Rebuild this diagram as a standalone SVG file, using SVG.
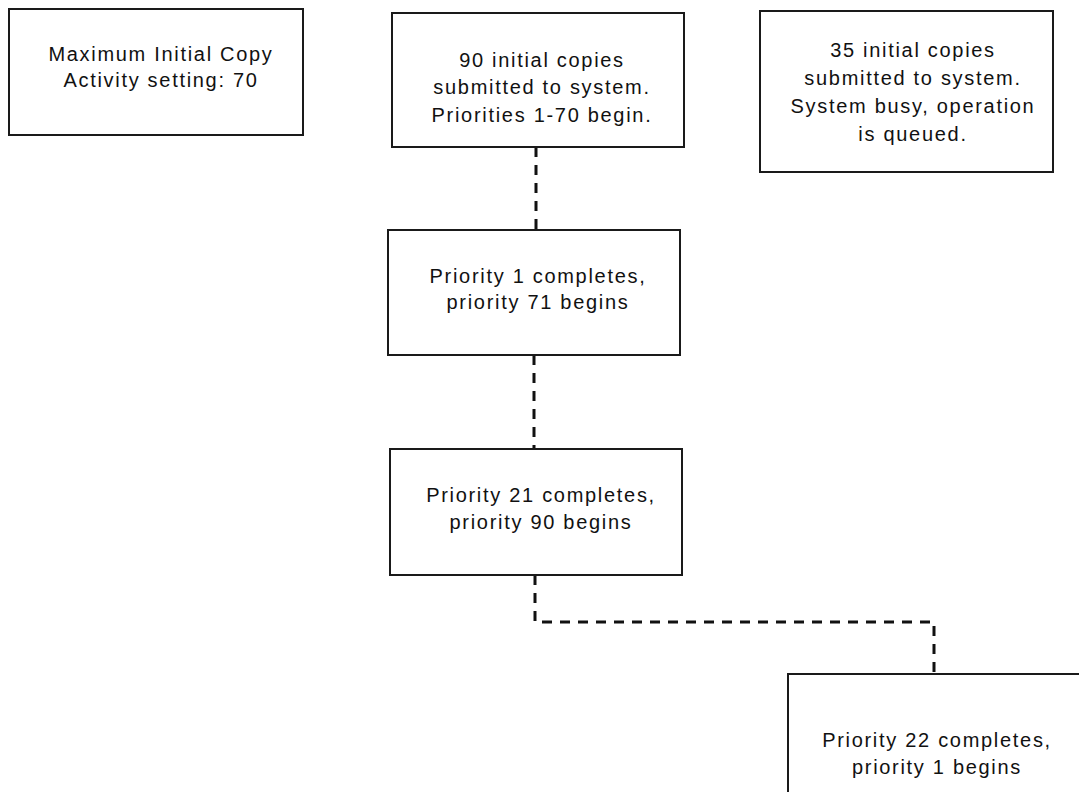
<svg xmlns="http://www.w3.org/2000/svg" width="1079" height="792" viewBox="0 0 1079 792">
<style>
.box{fill:#fff;stroke:#1a1a1a;stroke-width:2}
.t{font-family:"Liberation Sans",Arial,sans-serif;font-size:20px;letter-spacing:1.7px;fill:#111;text-anchor:middle}
.c{fill:none;stroke:#111;stroke-width:3;stroke-dasharray:10 8}
</style>
<rect width="1079" height="792" fill="#fff"/>
<g id="connectors">
<path class="c" d="M536,147 V230"/>
<path class="c" d="M534,355 V449"/>
<path class="c" d="M535,575 V622 H934 V674"/>
</g>
<g id="n-max">
<rect class="box" x="9" y="9" width="294" height="126"/>
<text class="t" x="161" y="61">Maximum Initial Copy</text>
<text class="t" x="161" y="87">Activity setting: 70</text>
</g>
<g id="n-90">
<rect class="box" x="392" y="13" width="292" height="134"/>
<text class="t" x="542" y="67">90 initial copies</text>
<text class="t" x="542" y="94">submitted to system.</text>
<text class="t" x="542" y="122">Priorities 1-70 begin.</text>
</g>
<g id="n-35">
<rect class="box" x="760" y="11" width="293" height="161"/>
<text class="t" x="913" y="57">35 initial copies</text>
<text class="t" x="913" y="85">submitted to system.</text>
<text class="t" x="913" y="113">System busy, operation</text>
<text class="t" x="913" y="141">is queued.</text>
</g>
<g id="n-p1">
<rect class="box" x="388" y="230" width="292" height="125"/>
<text class="t" x="538" y="283">Priority 1 completes,</text>
<text class="t" x="538" y="309">priority 71 begins</text>
</g>
<g id="n-p21">
<rect class="box" x="390" y="449" width="292" height="126"/>
<text class="t" x="541" y="502">Priority 21 completes,</text>
<text class="t" x="541" y="529">priority 90 begins</text>
</g>
<g id="n-p22">
<rect class="box" x="788" y="674" width="300" height="140"/>
<text class="t" x="937" y="747">Priority 22 completes,</text>
<text class="t" x="937" y="774">priority 1 begins</text>
</g>
</svg>
